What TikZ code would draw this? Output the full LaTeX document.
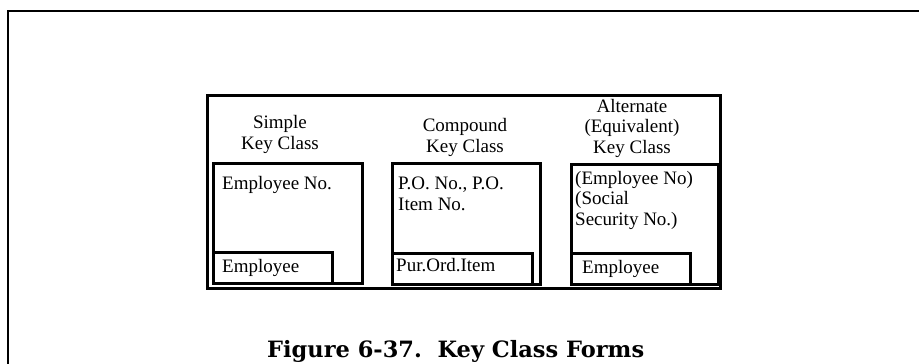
\documentclass[tikz,border=0pt]{standalone}
\usepackage{fontspec}
\setmainfont{Liberation Serif}
\newfontfamily\figcapfont{DejaVu Serif}

\begin{document}
\begin{tikzpicture}
[x=1pt, y=-1pt, draw=black, line join=miter,
keytext/.style={font=\fontsize{19}{20.5}\selectfont, inner sep=0pt},
classtitle/.style={keytext, align=center, anchor=base},
entry/.style={keytext, align=left, anchor=base west},
classbox/.style={rectangle, draw, line width=2.6pt, inner sep=0pt, anchor=north west},
subbox/.style={rectangle, draw, line width=2.6pt, inner sep=0pt, anchor=north west, minimum height=31pt}]

\useasboundingbox (0,0) rectangle (919,364);

% sheet border, runs off the page
\coordinate (sheetbl) at (8,364);
\coordinate (sheettl) at (8,11);
\coordinate (sheettr) at (919,11);
\draw[line width=2.5pt] (sheetbl) -- (sheettl) -- (sheettr);

\node[rectangle, draw, line width=3.3pt, inner sep=0pt, anchor=north west,
  minimum width=513pt, minimum height=193pt] (frame) at (206,94) {};

% base = last line of each title
\node[classtitle] (simple) at (280,149) {Simple\\Key Class};
\node[classtitle] (compound) at (465,152) {Compound\\Key Class};
\node[classtitle] (alternate) at (632,153) {Alternate\\(Equivalent)\\Key Class};

\node[classbox, minimum width=149pt, minimum height=120pt] (simplebox) at (212,162) {};
\node[classbox, minimum width=148pt, minimum height=121pt] (compoundbox) at (391,162) {};
\node[classbox, minimum width=147pt, minimum height=120pt] (alternatebox) at (570,163) {};

\node[subbox, minimum width=119pt] (simplesub) at (212,251) {};
\node[subbox, minimum width=140pt] (compoundsub) at (391,252) {};
\node[subbox, minimum width=119pt] (alternatesub) at (570,252) {};

\node[entry] (simplekey) at (222,189) {Employee No.};
\node[entry] (compoundkey) at (398,210) {P.O. No., P.O.\\Item No.};
\node[entry] (alternatekey) at (575,225) {(Employee No)\\(Social\\Security No.)};

\node[entry] (simpleclass) at (222,272) {Employee};
\node[entry] (compoundclass) at (396,271) {Pur.Ord.Item};
\node[entry] (alternateclass) at (582,273) {Employee};

\node[inner sep=0pt, anchor=base west, font=\figcapfont\bfseries\fontsize{22.5}{24}\selectfont]
  (caption) at (267,357.5) {Figure 6-37.~~Key Class Forms};

\end{tikzpicture}
\end{document}
